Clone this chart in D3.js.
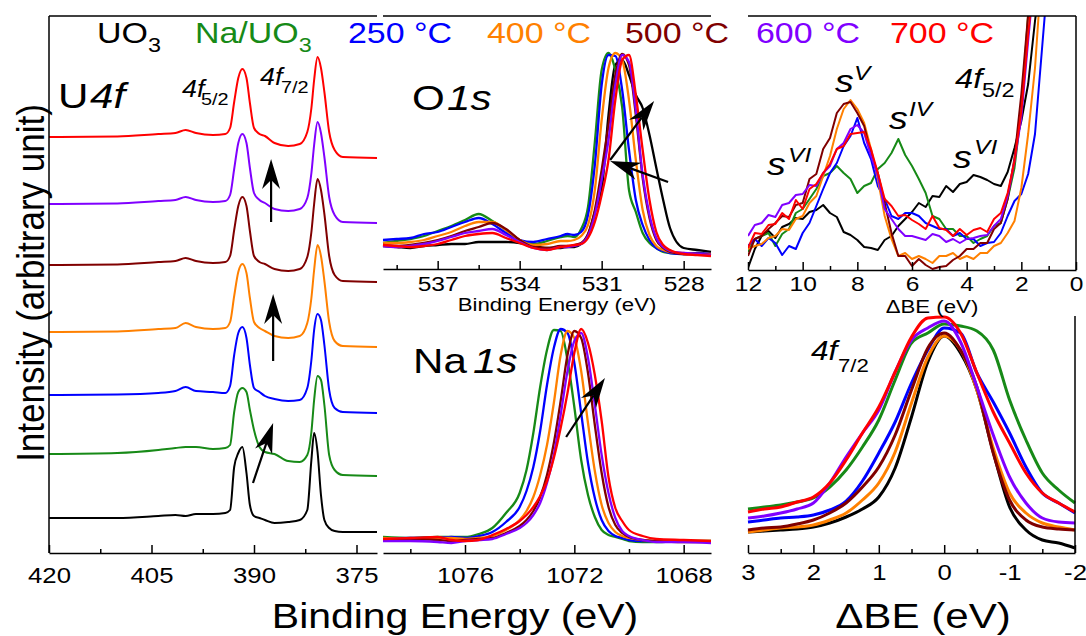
<!DOCTYPE html>
<html>
<head>
<meta charset="utf-8">
<script src="https://cdn.jsdelivr.net/npm/d3@7"></script>
<style>
  body { margin: 0; background: #fff; }
  svg { display: block; font-family: "Liberation Sans", Arial, sans-serif; }
</style>
</head>
<body>
<div id="wrapper"></div>
<script>

// samples (legend row)
const sampleNames = ["UO", "Na/UO", "250 \u00b0C", "400 \u00b0C", "500 \u00b0C", "600 \u00b0C", "700 \u00b0C"]
const sampleSubs = ["3", "3", "", "", "", "", ""]
const sampleColors = ["#000000", "#178a17", "#0000ff", "#ff8000", "#800000", "#8000ff", "#ff0000"]

// U 4f, binding energy (eV) and intensity (arb. counts, stacked)
const u4fBE = [420, 410, 404, 401.5, 400, 398.5, 396, 394.2, 393.5, 392.9, 392.3, 391.7, 391.1, 390.6, 390, 389.2, 388.4, 387, 385, 383.3, 382.2, 381.6, 381.2, 380.7, 380.2, 379.7, 379, 378.2, 377, 372]
const u4fUO3 = [35, 35, 37, 38, 37, 39, 39, 40, 43, 86, 100, 106, 80, 48, 37, 35, 33, 30, 31, 33, 43, 93, 120, 101, 58, 33, 25, 22, 21, 21]
const u4fNa = [99, 100, 103, 105, 106, 106, 104, 105, 108, 141, 161, 165, 161, 143, 123, 106, 101, 99, 92, 91, 98, 121, 153, 177, 173, 148, 98, 83, 78, 77]
const u4f250 = [158, 158.5, 160, 162, 166, 162, 161, 160, 167, 198, 220, 226, 215, 188, 165, 161, 157, 154, 152, 153, 165, 193, 223, 239, 233, 208, 163, 145, 141, 140]
const u4f400 = [221, 221.5, 224, 225, 230, 226, 224, 225, 231, 257, 281, 289, 280, 255, 231, 225, 222, 217, 215, 217, 230, 255, 283, 308, 297, 272, 231, 212, 207, 206]
const u4f500 = [288, 288.5, 291, 292, 295, 292, 290, 291, 297, 323, 347, 356, 347, 322, 297, 291, 289, 284, 282, 284, 296, 321, 349, 374, 363, 339, 297, 278, 272, 271]
const u4f600 = [349, 349.5, 352, 353, 356, 353, 351, 352, 358, 384, 410, 419, 410, 385, 360, 353, 350, 344, 342, 344, 355, 380, 408, 431, 420, 396, 356, 338, 331, 330]
const u4f700 = [416, 416.5, 419, 420, 423, 420, 418, 419, 425, 451, 475, 484, 475, 450, 425, 419, 417, 410, 407, 409, 421, 445, 473, 496, 485, 461, 421, 403, 396, 395]

// O 1s
const o1sBE = [539, 538.5, 538, 537.5, 537, 536.5, 536, 535.5, 535, 534.5, 534, 533.5, 533, 532.5, 532.25, 532, 531.75, 531.5, 531.25, 531, 530.75, 530.5, 530.25, 530, 529.75, 529.5, 529.25, 529, 528.75, 528.5, 528, 527.5, 527]
const o1sUO3 = [23, 22, 21, 23, 24, 25, 25, 27, 27, 27, 26, 23, 21, 21, 22, 22, 25, 34, 57, 79, 154, 204, 209, 194, 174, 161, 134, 101, 69, 41, 21, 19, 17]
const o1sNa = [26, 28, 30, 33, 38, 43, 49, 55, 48, 39, 29, 25, 28, 32, 33, 32, 40, 62, 127, 199, 216, 199, 162, 79, 57, 36, 26, 21, 17, 16, 15, 15, 14]
const o1s250 = [29, 30, 31, 35, 37, 42, 47, 51, 45, 36, 29, 27, 30, 33, 35, 34, 37, 54, 104, 184, 214, 213, 179, 119, 69, 44, 29, 21, 18, 16, 15, 16, 15]
const o1s400 = [26, 26, 27, 29, 33, 37, 43, 47, 47, 39, 29, 24, 25, 28, 28, 29, 33, 44, 79, 149, 201, 216, 209, 169, 109, 59, 34, 23, 19, 17, 16, 15, 15]
const o1s500 = [24, 23, 24, 26, 29, 33, 38, 42, 46, 40, 29, 22, 21, 23, 23, 24, 26, 35, 59, 99, 144, 194, 215, 204, 154, 91, 51, 29, 21, 17, 15, 15, 14]
const o1s600 = [23, 22, 23, 25, 28, 32, 36, 38, 40, 34, 27, 21, 19, 22, 22, 23, 25, 33, 54, 89, 129, 184, 214, 207, 159, 94, 54, 31, 22, 18, 16, 15, 14]
const o1s700 = [24, 23, 22, 23, 25, 29, 33, 35, 36, 31, 26, 21, 19, 22, 23, 24, 25, 31, 47, 74, 109, 169, 209, 214, 174, 119, 69, 37, 24, 19, 15, 14, 13]

// Na 1s
const na1sBE = [1079, 1078, 1077, 1076.5, 1076, 1075.5, 1075, 1074.5, 1074, 1073.75, 1073.5, 1073.25, 1073, 1072.75, 1072.5, 1072.25, 1072, 1071.75, 1071.5, 1071.25, 1071, 1070.75, 1070.5, 1070.25, 1070, 1069.5, 1069, 1068, 1067]
const na1sNa = [16, 15, 16, 16, 16, 19, 25, 40, 60, 83, 120, 166, 203, 223, 222, 193, 146, 93, 58, 36, 23, 18, 16, 14, 12, 11, 11, 12, 12]
const na1s250 = [14, 15, 15, 16, 15, 17, 21, 31, 46, 62, 86, 122, 168, 205, 224, 220, 190, 140, 90, 55, 33, 22, 17, 15, 13, 12, 12, 12, 11]
const na1s400 = [15, 14, 15, 15, 14, 15, 17, 23, 33, 42, 56, 78, 108, 150, 198, 222, 215, 182, 130, 82, 48, 30, 21, 17, 15, 13, 12, 12, 12]
const na1s500 = [13, 14, 13, 12, 13, 14, 15, 20, 27, 33, 42, 56, 78, 110, 152, 198, 222, 215, 180, 128, 80, 46, 28, 20, 16, 13, 12, 11, 11]
const na1s600 = [12, 12, 11, 10, 12, 13, 14, 19, 25, 30, 38, 50, 70, 98, 138, 182, 212, 220, 195, 148, 98, 60, 35, 22, 17, 13, 11, 11, 10]
const na1s700 = [14, 15, 16, 13, 12, 13, 18, 24, 32, 38, 46, 57, 72, 95, 125, 160, 200, 224, 210, 178, 132, 76, 45, 32, 23, 17, 14, 13, 12]

// satellite region of 4f5/2, delta BE (eV)
const satDBE = [12, 11.75, 11.5, 11.25, 11, 10.75, 10.5, 10.25, 10, 9.75, 9.5, 9.25, 9, 8.75, 8.5, 8.25, 8, 7.75, 7.5, 7.25, 7, 6.75, 6.5, 6.25, 6, 5.75, 5.5, 5.25, 5, 4.75, 4.5, 4.25, 4, 3.75, 3.5, 3.25, 3, 2.75, 2.5, 2.25, 2, 1.75, 1.5, 1.25, 1]
const satUO3 = [2, 21, 34, 39, 32, 43, 46, 52, 51, 58, 60, 65, 57, 53, 38, 35, 30, 23, 22, 20, 30, 34, 44, 51, 58, 67, 63, 74, 73, 84, 78, 86, 88, 95, 93, 90, 86, 84, 98, 122, 149, 186, 249, 302, 319]
const satNa = [18, 31, 34, 37, 24, 36, 41, 57, 61, 71, 81, 94, 97, 104, 97, 91, 77, 84, 87, 101, 107, 117, 131, 115, 104, 91, 77, 54, 51, 41, 41, 34, 34, 27, 31, 34, 44, 47, 71, 102, 159, 256, 302, 319, 336]
const sat250 = [24, 31, 24, 32, 27, 15, 24, 21, 37, 47, 64, 81, 97, 107, 124, 134, 152, 127, 111, 84, 71, 54, 51, 57, 57, 54, 47, 44, 41, 41, 34, 37, 31, 31, 24, 27, 28, 37, 54, 69, 76, 96, 136, 219, 302]
const sat400 = [21, 24, 26, 32, 34, 41, 40, 51, 54, 67, 74, 94, 114, 141, 161, 170, 161, 147, 121, 91, 54, 31, 14, 17, 11, 14, 11, 7, 14, 14, 17, 11, 14, 11, 17, 17, 24, 27, 37, 49, 82, 136, 202, 302, 319]
const sat500 = [14, 31, 34, 41, 47, 54, 53, 65, 67, 91, 96, 121, 132, 157, 166, 168, 157, 144, 117, 97, 67, 37, 14, 14, 4, 11, 5, 1, 3, 4, 10, 14, 21, 21, 27, 27, 41, 47, 71, 112, 176, 256, 302, 319, 336]
const sat600 = [34, 45, 47, 55, 53, 65, 67, 75, 76, 85, 84, 97, 104, 121, 127, 141, 145, 137, 114, 94, 61, 51, 41, 34, 34, 32, 30, 36, 34, 28, 31, 27, 31, 32, 34, 35, 44, 51, 74, 109, 152, 229, 302, 319, 336]
const sat700 = [22, 37, 36, 45, 46, 57, 51, 70, 61, 81, 86, 97, 106, 121, 124, 136, 137, 138, 121, 97, 71, 64, 54, 55, 50, 46, 41, 54, 42, 40, 34, 41, 35, 40, 42, 38, 51, 57, 77, 109, 159, 236, 302, 319, 336]

// U 4f7/2 aligned, delta BE (eV)
const f72DBE = [3, 2.75, 2.5, 2.25, 2, 1.75, 1.5, 1.25, 1, 0.75, 0.5, 0.25, 0, -0.25, -0.5, -0.75, -1, -1.25, -1.5, -1.75, -2]
const f72UO3 = [21, 22, 23, 24, 26, 30, 36, 44, 56, 85, 136, 191, 217, 200, 163, 101, 46, 23, 13, 10, 5]
const f72Na = [44, 46, 48, 51, 55, 66, 83, 106, 133, 173, 210, 220, 229, 227, 222, 203, 153, 113, 80, 63, 50]
const f72250 = [31, 33, 35, 36, 38, 43, 52, 72, 100, 131, 170, 203, 225, 220, 180, 151, 120, 86, 60, 50, 40]
const f72400 = [21, 23, 25, 26, 28, 33, 40, 53, 70, 101, 150, 196, 217, 203, 163, 105, 60, 40, 30, 26, 23]
const f72500 = [23, 25, 26, 29, 33, 40, 50, 66, 86, 118, 163, 205, 220, 203, 166, 100, 53, 33, 26, 24, 23]
const f72600 = [35, 37, 40, 44, 50, 70, 96, 120, 143, 181, 213, 225, 232, 211, 166, 118, 76, 50, 35, 31, 30]
const f72700 = [41, 44, 46, 51, 56, 70, 93, 120, 146, 181, 216, 235, 236, 220, 180, 141, 110, 80, 60, 50, 41]

// arrows [from x, from y, to x, to y] in data units
const u4fArrows = [[387.5, 331, 387.5, 394], [387.2, 192, 387.2, 259], [390.15, 70, 387.2, 130]]
const o1sArrows = [[530.69, 109, 529.08, 168], [528.57, 87, 530.69, 108]]
const na1sArrows = [[1072.3, 116, 1070.88, 175]]

// ---------- drawing ----------
const svg = d3.select("#wrapper").append("svg")
  .attr("width", 1086)
  .attr("height", 636)

const SX = 1.17   // the original figure is slightly stretched sideways

function label(x, y, str, size, opt = {}) {
  return svg.append("text")
    .attr("transform", `translate(${x},${y}) scale(${opt.sx || SX},1)`)
    .attr("text-anchor", opt.anchor || "start")
    .attr("font-size", size)
    .attr("font-style", opt.italic ? "italic" : null)
    .attr("fill", opt.fill || "#000")
    .text(str)
}

function frameLine(x1, y1, x2, y2) {
  svg.append("line")
    .attr("x1", x1).attr("y1", y1).attr("x2", x2).attr("y2", y2)
    .attr("stroke", "#000").attr("stroke-width", 1.5)
}

function bottomAxis(scale, y, major, minor, pad, size) {
  const gMaj = svg.append("g")
    .attr("transform", `translate(0,${y})`)
    .call(d3.axisBottom(scale)
      .tickValues(major)
      .tickSizeInner(-8)
      .tickSizeOuter(0)
      .tickPadding(pad)
      .tickFormat(d => String(d)))
  gMaj.attr("font-family", null).attr("font-size", size)
  gMaj.selectAll("text").attr("fill", "#000").attr("transform", `scale(${SX},1)`)
  gMaj.selectAll("line, path").attr("stroke", "#000").attr("stroke-width", 1.5)

  const gMin = svg.append("g")
    .attr("transform", `translate(0,${y})`)
    .call(d3.axisBottom(scale)
      .tickValues(minor)
      .tickSizeInner(-4)
      .tickSizeOuter(0)
      .tickFormat(""))
  gMin.select(".domain").remove()
  gMin.selectAll("line").attr("stroke", "#000").attr("stroke-width", 1.5)
}

function drawSpectra(xScale, yScale, grid, list, curve, lw, clipId) {
  const line = d3.line()
    .x((d, i) => xScale(grid[i]))
    .y(d => yScale(d))
    .curve(curve)
  const g = svg.append("g")
  if (clipId) g.attr("clip-path", `url(#${clipId})`)
  g.selectAll("path")
    .data(list)
    .join("path")
    .attr("d", d => line(d.values))
    .attr("fill", "none")
    .attr("stroke", d => sampleColors[d.sample])
    .attr("stroke-width", lw)
    .attr("stroke-linejoin", "round")
}

function drawArrows(xScale, yScale, arrows) {
  arrows.forEach(a => {
    const x1 = xScale(a[0]), y1 = yScale(a[1])
    const x2 = xScale(a[2]), y2 = yScale(a[3])
    const ang = Math.atan2(y2 - y1, x2 - x1)
    const ux = Math.cos(ang), uy = Math.sin(ang)
    const L = 30, W = 9, N = 9
    const bx = x2 - L * ux, by = y2 - L * uy
    const nx = x2 - (L - N) * ux, ny = y2 - (L - N) * uy
    svg.append("line")
      .attr("x1", x1).attr("y1", y1).attr("x2", nx).attr("y2", ny)
      .attr("stroke", "#000").attr("stroke-width", 2.2)
    svg.append("path")
      .attr("d", `M${x2},${y2}L${bx - W * uy},${by + W * ux}L${nx},${ny}L${bx + W * uy},${by - W * ux}Z`)
      .attr("fill", "#000")
  })
}

// scales
const xU = d3.scaleLinear().domain([420, 372]).range([49, 377])
const yU = d3.scaleLinear().domain([0, 537]).range([553, 16])
const xO = d3.scaleLinear().domain([539, 527]).range([383, 711])
const yO = d3.scaleLinear().domain([0, 253]).range([269, 16])
const xNa = d3.scaleLinear().domain([1079, 1067]).range([383, 711])
const yNa = d3.scaleLinear().domain([0, 237]).range([553, 316])
const xS = d3.scaleLinear().domain([12, 0]).range([748, 1076])
const yS = d3.scaleLinear().domain([0, 254]).range([270, 16])
const xF = d3.scaleLinear().domain([3, -2]).range([748, 1075])
const yF = d3.scaleLinear().domain([0, 237]).range([553, 316])

svg.append("defs").append("clipPath").attr("id", "satClip")
  .append("rect")
  .attr("x", xS.range()[0]).attr("y", yS.range()[1])
  .attr("width", xS.range()[1] - xS.range()[0])
  .attr("height", yS.range()[0] - yS.range()[1])

// spectra
drawSpectra(xU, yU, u4fBE, [
  { sample: 0, values: u4fUO3 }, { sample: 1, values: u4fNa }, { sample: 2, values: u4f250 },
  { sample: 3, values: u4f400 }, { sample: 4, values: u4f500 }, { sample: 5, values: u4f600 },
  { sample: 6, values: u4f700 }], d3.curveMonotoneX, 2)

drawSpectra(xO, yO, o1sBE, [
  { sample: 0, values: o1sUO3 }, { sample: 1, values: o1sNa }, { sample: 2, values: o1s250 },
  { sample: 3, values: o1s400 }, { sample: 4, values: o1s500 }, { sample: 5, values: o1s600 },
  { sample: 6, values: o1s700 }], d3.curveMonotoneX, 2.3)

drawSpectra(xNa, yNa, na1sBE, [
  { sample: 1, values: na1sNa }, { sample: 2, values: na1s250 }, { sample: 3, values: na1s400 },
  { sample: 4, values: na1s500 }, { sample: 5, values: na1s600 }, { sample: 6, values: na1s700 }],
  d3.curveMonotoneX, 2.3)

drawSpectra(xS, yS, satDBE, [
  { sample: 0, values: satUO3 }, { sample: 1, values: satNa }, { sample: 2, values: sat250 },
  { sample: 3, values: sat400 }, { sample: 4, values: sat500 }, { sample: 5, values: sat600 },
  { sample: 6, values: sat700 }], d3.curveLinear, 2, "satClip")

drawSpectra(xF, yF, f72DBE, [
  { sample: 0, values: f72UO3 }, { sample: 1, values: f72Na }, { sample: 2, values: f72250 },
  { sample: 3, values: f72400 }, { sample: 4, values: f72500 }, { sample: 5, values: f72600 },
  { sample: 6, values: f72700 }], d3.curveMonotoneX, 3)

// axes and frames
bottomAxis(xU, 553, [420, 405, 390, 375], [412.5, 397.5, 382.5], 14, 22)
bottomAxis(xO, 269, [537, 534, 531, 528], [538.5, 535.5, 532.5, 529.5], 7, 21)
bottomAxis(xNa, 553, [1076, 1072, 1068], [1078, 1074, 1070], 14, 22)
bottomAxis(xS, 270, [12, 10, 8, 6, 4, 2, 0], [11, 9, 7, 5, 3, 1], 6, 21)
bottomAxis(xF, 553, [3, 2, 1, 0, -1, -2], [2.5, 1.5, 0.5, -0.5, -1.5], 11, 22)

frameLine(xU.range()[0], yU.range()[1], xU.range()[0], yU.range()[0])
frameLine(xU.range()[0], yU.range()[1], xU.range()[1], yU.range()[1])
frameLine(xO.range()[0], yO.range()[1], xO.range()[1], yO.range()[1])
frameLine(xS.range()[0], yS.range()[1], xS.range()[1], yS.range()[1])
frameLine(xS.range()[1], yS.range()[1], xS.range()[1], yS.range()[0])
frameLine(xF.range()[1], yF.range()[1], xF.range()[1], yF.range()[0])

// arrows
drawArrows(xU, yU, u4fArrows)
drawArrows(xO, yO, o1sArrows)
drawArrows(xNa, yNa, na1sArrows)

// legend row
const legendX = [97, 195, 348, 487, 625, 756, 890]
sampleNames.forEach((name, i) => {
  const t = label(legendX[i], 43, null, 29, { fill: sampleColors[i] })
  t.append("tspan").text(name)
  if (sampleSubs[i]) t.append("tspan").attr("font-size", 20).attr("dy", 9).text(sampleSubs[i])
})

// panel labels
label(58, 108, "U", 36)
label(90, 108, "4f", 36, { italic: true })
label(182, 97, "4f", 23, { italic: true })
label(201, 105, "5/2", 17)
label(260, 85, "4f", 23, { italic: true })
label(281, 93, "7/2", 17)

label(412, 110, "O", 36)
label(447, 110, "1s", 36, { italic: true })
label(413, 373, "Na", 36)
label(473, 373, "1s", 36, { italic: true })

label(835, 92, "s", 32, { italic: true })
label(854, 80, "V", 21, { italic: true })
label(889, 129, "s", 32, { italic: true })
label(909, 116, "IV", 21, { italic: true })
label(767, 175, "s", 32, { italic: true })
label(788, 162, "VI", 21, { italic: true })
label(953, 168, "s", 32, { italic: true })
label(974, 154, "VI", 21, { italic: true })
label(955, 88, "4f", 28, { italic: true })
label(982, 97, "5/2", 20)

label(811, 360, "4f", 27, { italic: true })
label(838, 372, "7/2", 19)

// axis titles
label(557, 311, "Binding Energy (eV)", 19, { anchor: "middle" })
label(932, 313, "\u0394BE (eV)", 19, { anchor: "middle" })
label(455, 628, "Binding Energy (eV)", 35, { anchor: "middle" })
label(923, 628, "\u0394BE (eV)", 36, { anchor: "middle" })

svg.append("text")
  .attr("transform", "translate(44,283) rotate(-90) scale(1,1.12)")
  .attr("text-anchor", "middle")
  .attr("font-size", 35)
  .attr("fill", "#000")
  .text("Intensity (arbitrary unit)")

</script>
</body>
</html>
